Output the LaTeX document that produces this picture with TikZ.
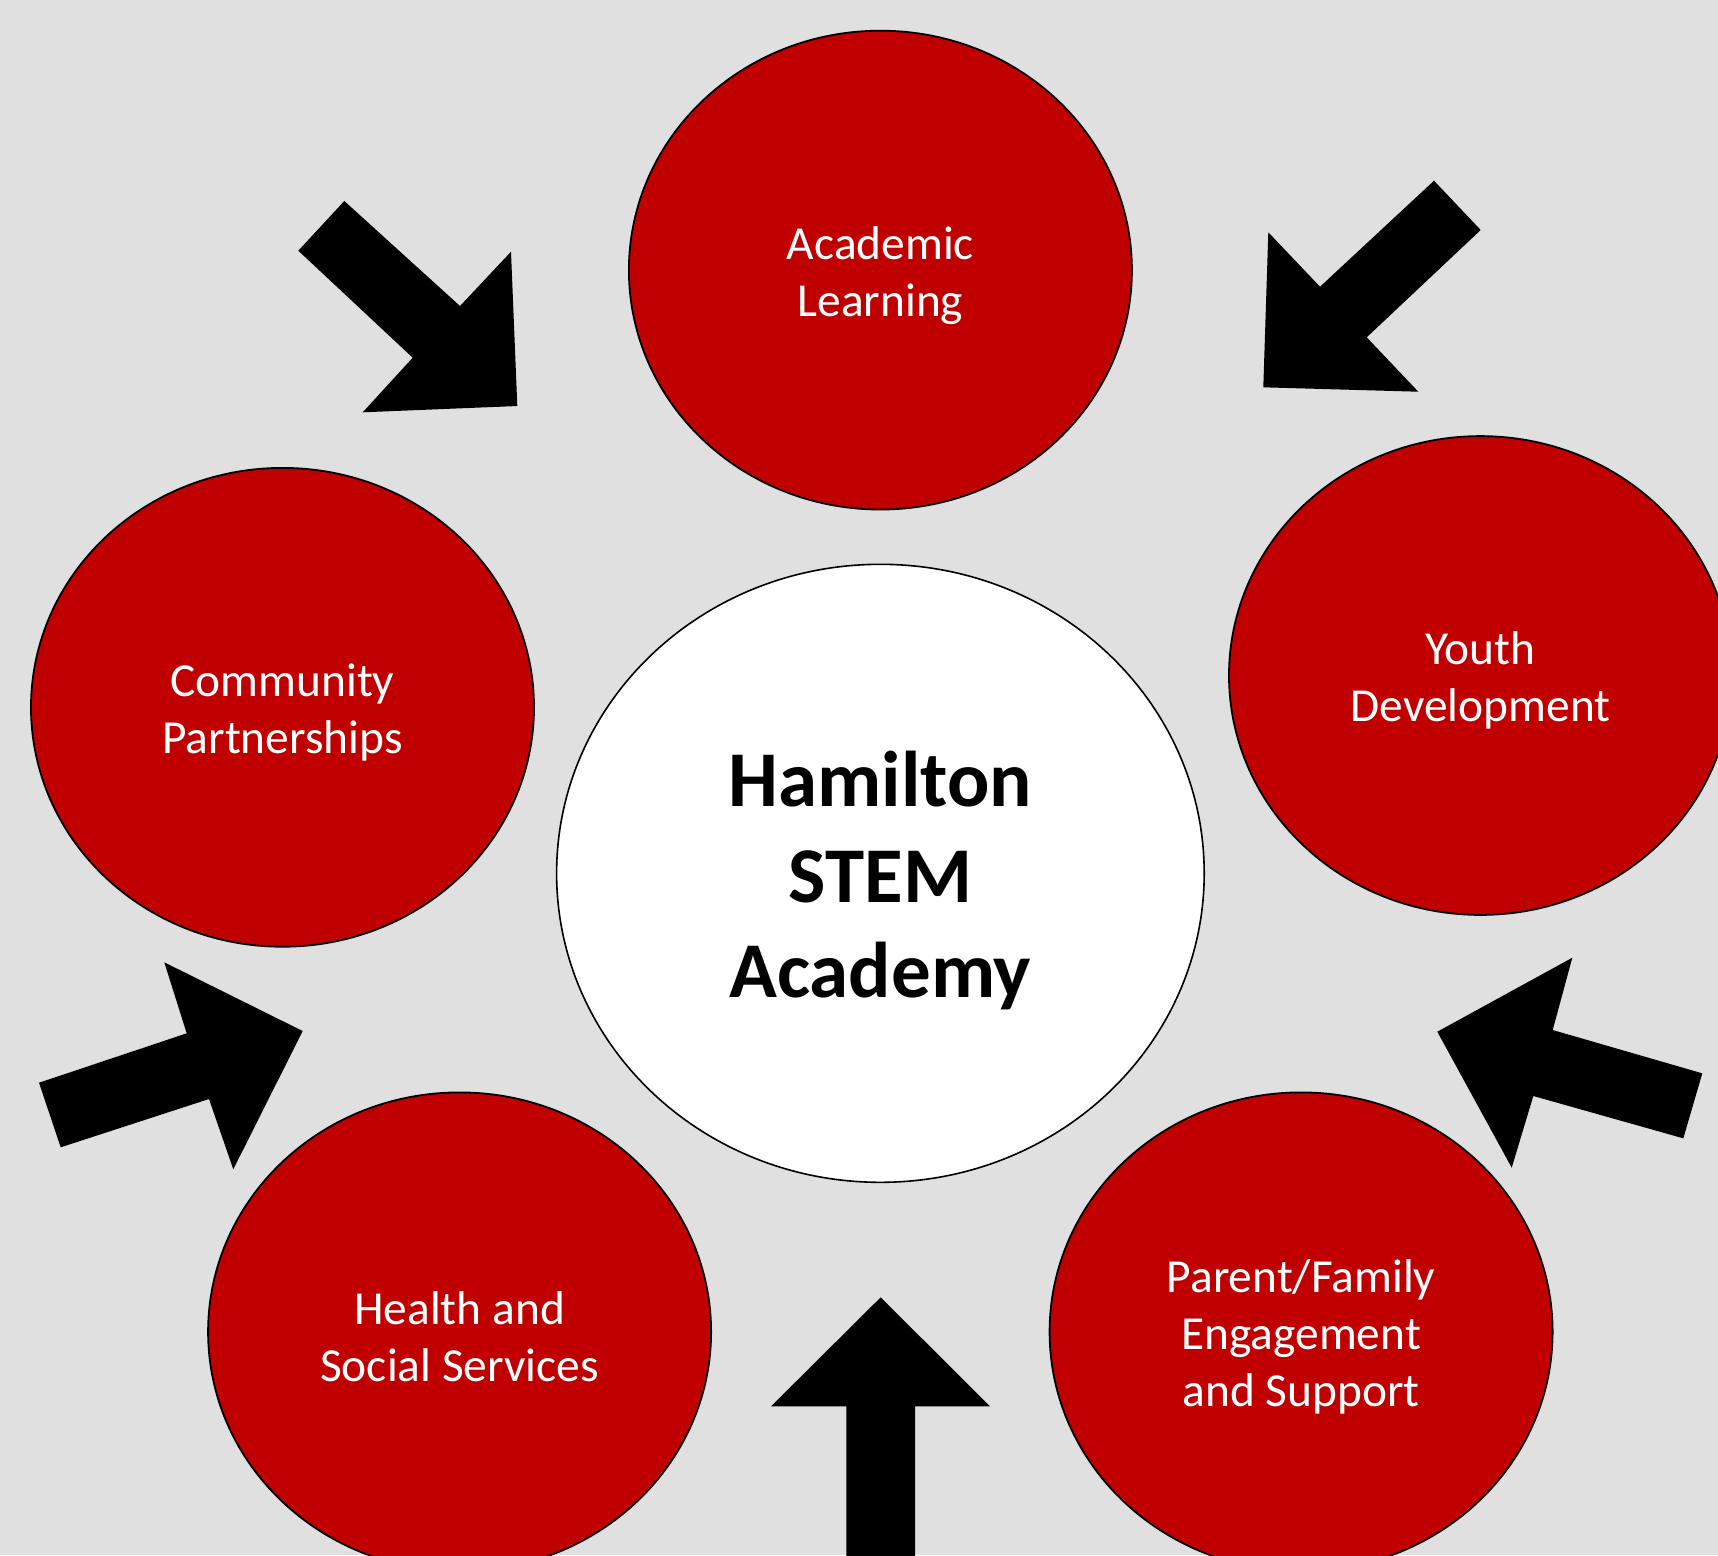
\documentclass[tikz,border=0pt]{standalone}
\usepackage{fontspec}
\setmainfont{Carlito}
\usetikzlibrary{shapes.geometric}
\definecolor{bgGray}{HTML}{E0E0E0}
\definecolor{deepRed}{HTML}{C00000}
\begin{document}
\begin{tikzpicture}[x=0.5pt,y=-0.5pt,
  pillar/.style={ellipse, draw=black, line width=0.9pt, fill=deepRed,
    minimum width=251.5pt, minimum height=239.4pt, inner sep=0pt},
  pillartext/.style={text=white, align=center, inner sep=0pt, yshift=-2.6pt,
    font=\fontsize{23.7}{28.5}\selectfont},
  hub/.style={ellipse, draw=black, line width=0.8pt, fill=white,
    minimum width=323.8pt, minimum height=309pt, inner sep=0pt},
  hubtext/.style={align=center, inner sep=0pt, yshift=-3.6pt,
    font=\bfseries\fontsize{39.5}{47.7}\selectfont},
  blockarrow/.style={fill=black, draw=none}]
  % canvas
  \useasboundingbox (0,0) rectangle (1718,1555);
  \clip (0,0) rectangle (1718,1555);
  \fill[bgGray] (0,0) rectangle (1718,1555);

  % central hub
  \node[hub] (hub) at (880.4,873.3) {};
  \node[hubtext] (hubLabel) at (hub.center) {Hamilton\\STEM\\Academy};

  % surrounding pillars
  \node[pillar] (acad) at (880.4,270.1) {};
  \node[pillar] (youth) at (1480.5,675.5) {};
  \node[pillar] (comm) at (282.5,707.3) {};
  \node[pillar] (health) at (459.6,1331.8) {};
  \node[pillar] (family) at (1301.1,1331.8) {};

  \node[pillartext] (acadLabel) at (acad.center) {Academic\\Learning};
  \node[pillartext] (youthLabel) at (youth.center) {Youth\\Development};
  \node[pillartext] (commLabel) at (comm.center) {Community\\Partnerships};
  \node[pillartext] (healthLabel) at (health.center) {Health and\\Social Services};
  \node[pillartext] (familyLabel) at (family.center) {Parent/Family\\Engagement\\and Support};

  % block arrows pointing inward
  \fill[blockarrow] (298.3,250.7) -- (344.3,201) -- (460,306) -- (511,251.7)
    -- (517.3,406) -- (362.7,412.3) -- (412.7,357.7) -- cycle;
  \fill[blockarrow] (1434,180.7) -- (1480.7,230) -- (1366.7,337.3) -- (1418.3,391.7)
    -- (1263.3,387.3) -- (1268.3,232.3) -- (1320,286.7) -- cycle;
  \fill[blockarrow] (39,1082.7) -- (60.7,1147.3) -- (209,1099) -- (233.3,1169.3)
    -- (302.7,1031) -- (164.3,962.3) -- (186.7,1033.3) -- cycle;
  \fill[blockarrow] (1702.3,1073.3) -- (1683.3,1138.3) -- (1533.3,1096) -- (1511.7,1167.7)
    -- (1437.3,1031.7) -- (1572.3,957.7) -- (1552.7,1030) -- cycle;
  \fill[blockarrow] (846.3,1560) -- (846.3,1406.3) -- (771,1406.3) -- (880.7,1297.3)
    -- (990,1406.3) -- (915,1406.3) -- (915,1560) -- cycle;
\end{tikzpicture}
\end{document}
